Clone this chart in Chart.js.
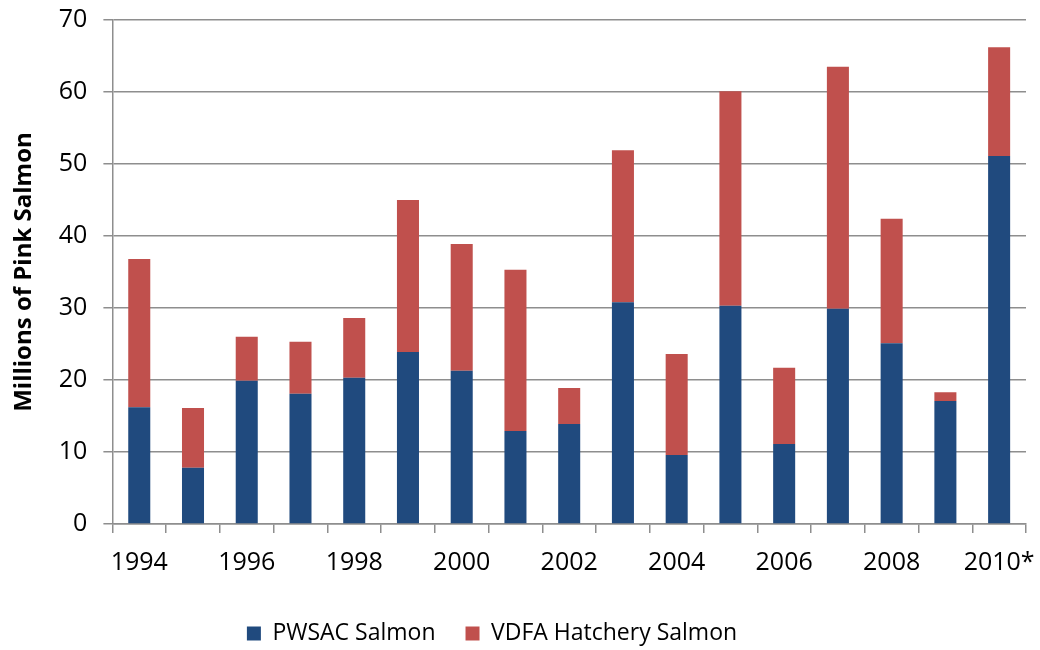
<!DOCTYPE html>
<html>
<head>
<meta charset="utf-8">
<script src="https://cdn.jsdelivr.net/npm/chart.js@4.4.1/dist/chart.umd.min.js"></script>
<style>
  html, body { margin: 0; padding: 0; background: #fff; }
  #wrap { width: 1040px; height: 650px; }
</style>
</head>
<body>
<div id="wrap"><canvas id="c" width="1040" height="650"></canvas></div>
<script>
const years = ["1994","1995","1996","1997","1998","1999","2000","2001","2002","2003","2004","2005","2006","2007","2008","2009","2010*"]
const pwsac = [16.2, 7.8, 19.9, 18.1, 20.3, 23.9, 21.3, 12.9, 13.9, 30.8, 9.6, 30.3, 11.1, 29.9, 25.1, 17.1, 51.1]
const vdfa = [20.6, 8.3, 6.1, 7.2, 8.3, 21.1, 17.6, 22.4, 5.0, 21.1, 14.0, 29.8, 10.6, 33.6, 17.3, 1.2, 15.1]
const y_ticks = [0, 10, 20, 30, 40, 50, 60, 70]

const blue = "#204a7e"
const red = "#c0504d"
const grid_col = "#8e8e8e"
const font_name = "'Open Sans', 'Noto Sans', sans-serif"

Chart.defaults.font.family = font_name
Chart.defaults.color = "#000"

// legend in the original sits a bit left of centre and lower
const legend_shift = {
    id: "legend_shift",
    afterLayout(chart){
        chart.legend.right -= 52
        chart.legend.top += 8
        chart.legend.bottom += 8
    }
}

const chart = new Chart(document.getElementById("c").getContext("2d"), {
    type: "bar",
    data: {
        labels: years,
        datasets: [
            {label: "PWSAC Salmon", data: pwsac, backgroundColor: blue,
             categoryPercentage: 1, barPercentage: 0.41},
            {label: "VDFA Hatchery Salmon", data: vdfa, backgroundColor: red,
             categoryPercentage: 1, barPercentage: 0.41}
        ]
    },
    options: {
        responsive: false,
        animation: false,
        layout: {padding: {top: 0, right: 14, left: 10, bottom: 3}},
        plugins: {
            legend: {
                position: "bottom",
                labels: {boxWidth: 14, boxHeight: 14, padding: 30,
                         font: {size: 23}, color: "#000"}
            },
            tooltip: {enabled: false}
        },
        scales: {
            x: {
                stacked: true,
                afterFit: function(s){ s.height = 60; s.paddingLeft = 0; s.paddingRight = 0 },
                grid: {drawOnChartArea: false, drawTicks: true, tickLength: 9,
                       color: grid_col, offset: true, lineWidth: 1.5},
                border: {color: grid_col, width: 1.5},
                ticks: {
                    autoSkip: false, maxRotation: 0, padding: 15,
                    font: {size: 25}, color: "#000",
                    callback: function(v, i){ return i % 2 == 0 ? years[i] : "" }
                }
            },
            y: {
                stacked: true,
                min: 0, max: 70,
                afterBuildTicks: function(axis){ axis.ticks = y_ticks.map(v => ({value: v})) },
                afterFit: function(s){ s.paddingTop = 20; s.paddingBottom = 0 },
                grid: {color: grid_col, lineWidth: 1.5, tickLength: 9},
                border: {color: grid_col, width: 1.5},
                ticks: {font: {size: 25}, color: "#000", padding: 16},
                title: {display: true, text: "Millions of Pink Salmon",
                        font: {size: 24, weight: "bold"}, color: "#000", padding: {top: 0, bottom: 4}}
            }
        }
    },
    plugins: [legend_shift]
})
</script>
</body>
</html>
